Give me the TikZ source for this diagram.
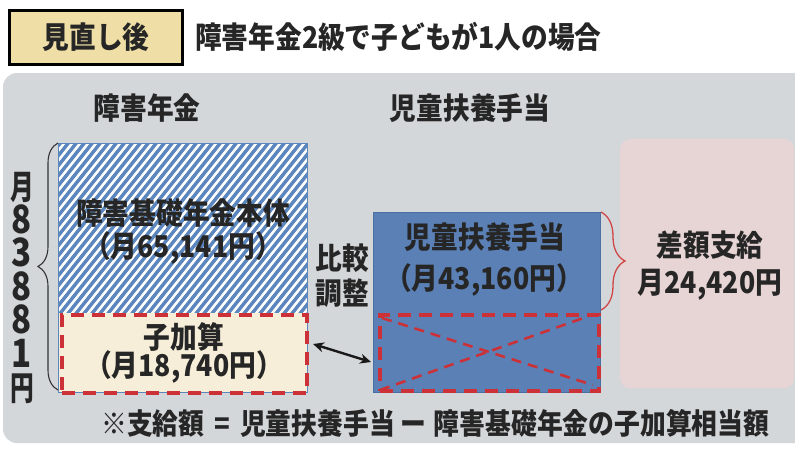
\documentclass[tikz,border=0pt]{standalone}
\usepackage{fontspec}
\usepackage{graphicx}
\setmainfont{Noto Sans CJK JP}[FakeStretch=0.89]
\newfontfamily\vjfont{Noto Sans CJK JP}[FakeStretch=0.74]
\newfontfamily\vdfont{Noto Sans CJK JP}
\usetikzlibrary{decorations.pathreplacing,arrows.meta}
\definecolor{panel}{HTML}{D4D7DA}
\definecolor{tanfill}{HTML}{EFDFA6}
\definecolor{hatchblue}{HTML}{5B86BE}
\definecolor{cream}{HTML}{F6EED8}
\definecolor{boxblue}{HTML}{5A80B5}
\definecolor{boxblueline}{HTML}{4A6FA3}
\definecolor{pinkfill}{HTML}{E7D4D4}
\definecolor{dashred}{HTML}{CC3138}
\definecolor{bracered}{HTML}{D04545}
\tikzset{
  txt/.style={font=\bfseries\fontsize{30}{33}\selectfont, inner sep=0pt, text=black!85},
  titlebox/.style={draw=black, line width=3pt, fill=tanfill, minimum width=173pt, minimum height=54pt, inner sep=0pt, font=\bfseries\fontsize{30}{33}\selectfont, text=black!85},
  reddash/.style={draw=dashred, line width=4pt, dash pattern=on 13pt off 8pt},
  redx/.style={draw=dashred, line width=2.6pt, dash pattern=on 10pt off 7pt},
  hatchline/.style={draw=hatchblue, line width=3.4pt},
  vtext/.style={inner sep=0pt, text=black!85},
}
\newcommand{\vj}[1]{\hbox to 30pt{\hss\scalebox{1}[1.05]{\vjfont\bfseries\fontsize{32}{33.5}\selectfont #1}\hss}}
\newcommand{\vd}[1]{\hbox to 30pt{\hss\scalebox{1}[1.18]{\vdfont\bfseries\fontsize{33}{33.5}\selectfont #1}\hss}}
\begin{document}
\begin{tikzpicture}[x=1pt,y=-1pt]
\useasboundingbox (0,0) rectangle (795,450);
\fill[white] (0,0) rectangle (795,450);
\begin{scope}
  \clip (0,0) rectangle (795,450);
  \fill[panel, rounded corners=14pt] (3,73) rectangle (815,443);
\end{scope}
% title
\node[titlebox] (tb) at (96,37) {見直し後};
\node[txt, anchor=west] (title) at (195,37) {障害年金2級で子どもが1人の場合};
% headers
\node[txt] (h1) at (147,108) {障害年金};
\node[txt] (h2) at (470,108) {児童扶養手当};
% left column: hatched part
\begin{scope}
  \clip (58,143) rectangle (307,313);
  \fill[white] (58,143) rectangle (307,313);
  \foreach \i in {-18,-17,...,32} {
    \draw[hatchline] ({58+8*\i},316) -- ++(140,-175);
  }
\end{scope}
\fill[cream] (58,313) rectangle (307,392);
\node[draw=hatchblue, line width=1pt, minimum width=249pt, minimum height=249pt, inner sep=0pt, anchor=north west] (leftcol) at (58,143) {};
\node[reddash, minimum width=245pt, minimum height=78pt, inner sep=0pt, anchor=north west] (kasan) at (60,313) {};
\node[txt] (t1) at (183,213) {障害基礎年金本体};
\node[txt] (t2) at (183,248) {（月65,141円）};
\node[txt] (t3) at (184,337) {子加算};
\node[txt] (t4) at (184,367) {（月18,740円）};
% left brace and vertical text
\draw[black!80, line width=1.1pt, decorate, decoration={brace, amplitude=20pt}] (58,390) -- (58,143);
\node[vtext] (vert) at (22,288) {\vbox{\lineskiplimit=-100pt\baselineskip=33.5pt
  \vj{月}\vd{8}\vd{3}\vd{8}\vd{8}\vd{1}\vj{円}}};
% middle
\node[txt] (m1) at (342,258) {比較};
\node[txt] (m2) at (342,293) {調整};
% blue box
\node[draw=boxblueline, line width=1pt, fill=boxblue, minimum width=227pt, minimum height=180pt, inner sep=0pt, anchor=north west] (child) at (373,212) {};
\node[reddash, minimum width=219pt, minimum height=76pt, inner sep=0pt, anchor=north west] (cross) at (378,313) {};
\draw[redx] ([shift={(4,5)}]cross.north west) -- ([shift={(-8,-8)}]cross.south east);
\draw[redx] ([shift={(2,-3)}]cross.south west) -- ([shift={(-12,3)}]cross.north east);
\node[txt] (c1) at (485,237) {児童扶養手当};
\node[txt] (c2) at (484,280) {（月43,160円）};
% pink box
\node[fill=pinkfill, rounded corners=10pt, minimum width=174pt, minimum height=249pt, inner sep=0pt, anchor=north west] (diff) at (620,139) {};
\node[txt] (d1) at (710,245) {差額支給};
\node[txt] (d2) at (710,285) {月24,420円};
% right brace
\draw[bracered, line width=1.3pt, decorate, decoration={brace, amplitude=24pt}] (601,212) -- (601,310);
% arrow
\coordinate (a1) at (313,344);
\coordinate (a2) at (371,362);
\draw[{Stealth[length=11pt,width=10pt]}-{Stealth[length=11pt,width=10pt]}, line width=2.4pt, black!90] (a1) -- (a2);
% footnote
\node[txt, font=\bfseries\fontsize{29}{32}\selectfont, anchor=west] (foot) at (101,423) {※支給額\hspace{10pt}=\hspace{10pt}児童扶養手当\hspace{5pt}ー\hspace{8pt}障害基礎年金の子加算相当額};
\end{tikzpicture}
\end{document}
